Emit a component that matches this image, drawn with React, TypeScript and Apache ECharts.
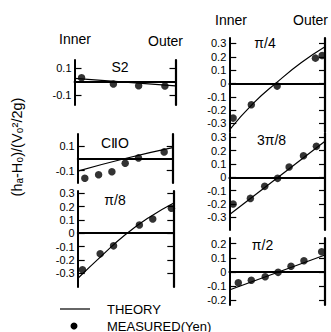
import React, { useEffect, useRef } from "react";
import * as echarts from "echarts";

// ---- data ----
const panelTitles = ["S2", "CⅡO", "π/8", "π/4", "3π/8", "π/2"];

const s2MeasuredX = [0.07, 0.385, 0.635, 0.895];
const s2MeasuredY = [0.03, -0.017, -0.03, -0.032];
const s2TheoryX = [0, 1];
const s2TheoryY = [0.025, -0.032];

const c2MeasuredX = [0.075, 0.22, 0.36, 0.5, 0.64, 0.91];
const c2MeasuredY = [-0.165, -0.135, -0.11, -0.04, 0.005, 0.055];
const c2TheoryX = [0, 0.5, 1];
const c2TheoryY = [-0.105, 0.0, 0.09];

const p8MeasuredX = [0.05, 0.235, 0.375, 0.645, 0.785, 0.98];
const p8MeasuredY = [-0.275, -0.155, -0.095, 0.062, 0.107, 0.187];
const p8TheoryX = [0, 0.25, 0.5, 0.75, 1];
const p8TheoryY = [-0.34, -0.17, -0.01, 0.12, 0.225];

const p4MeasuredX = [0.04, 0.23, 0.5, 0.9, 0.97];
const p4MeasuredY = [-0.26, -0.16, -0.02, 0.19, 0.21];
const p4TheoryX = [0, 0.25, 0.5, 0.75, 1];
const p4TheoryY = [-0.35, -0.15, 0.01, 0.155, 0.275];

const p38MeasuredX = [0.04, 0.22, 0.37, 0.505, 0.625, 0.775, 0.91];
const p38MeasuredY = [-0.2, -0.158, -0.068, -0.008, 0.077, 0.162, 0.232];
const p38TheoryX = [0, 1];
const p38TheoryY = [-0.28, 0.27];

const p2MeasuredX = [0.094, 0.23, 0.375, 0.51, 0.645, 0.78, 0.965];
const p2MeasuredY = [-0.079, -0.06, -0.036, -0.004, 0.04, 0.079, 0.143];
const p2TheoryX = [0, 1];
const p2TheoryY = [-0.13, 0.12];

const ticksSmall = [-0.1, 0.1];
const ticksWide = [-0.3, -0.2, -0.1, 0, 0.1, 0.2, 0.3];
const ticksMid = [-0.2, -0.1, 0, 0.1, 0.2];

const axisTitle = "(hₐ-H₀)/(V₀²/2g)";
const sideLabels = ["Inner", "Outer"];
const legendLabels = ["THEORY", "MEASURED(Yen)"];

const measuredX = [s2MeasuredX, c2MeasuredX, p8MeasuredX, p4MeasuredX, p38MeasuredX, p2MeasuredX];
const measuredY = [s2MeasuredY, c2MeasuredY, p8MeasuredY, p4MeasuredY, p38MeasuredY, p2MeasuredY];
const theoryX = [s2TheoryX, c2TheoryX, p8TheoryX, p4TheoryX, p38TheoryX, p2TheoryX];
const theoryY = [s2TheoryY, c2TheoryY, p8TheoryY, p4TheoryY, p38TheoryY, p2TheoryY];
const panelTicks = [ticksSmall, ticksSmall, ticksWide, ticksWide, ticksWide, ticksMid];

// ---- layout (pixels) ----
const layout = [
  { left: 74.5, top: 60, width: 101, height: 45, min: -0.175, max: 0.163, tx: 120, ty: 67 },
  { left: 77.7, top: 134, width: 95, height: 49, min: -0.204, max: 0.204, tx: 115, ty: 143 },
  { left: 77.7, top: 191, width: 95.6, height: 96, min: -0.404, max: 0.317, tx: 115, ty: 200 },
  { left: 229.3, top: 38, width: 95.7, height: 93.7, min: -0.362, max: 0.341, tx: 265, ty: 43 },
  { left: 229.3, top: 133, width: 95.7, height: 97, min: -0.395, max: 0.332, tx: 271.5, ty: 140 },
  { left: 229.3, top: 238, width: 95.7, height: 67, min: -0.237, max: 0.241, tx: 262.5, ty: 245 },
];

const FONT = '"Liberation Sans", Arial, sans-serif';

export default function App() {
  const ref = useRef<HTMLDivElement>(null);
  useEffect(() => {
    if (!ref.current) return;
    const chart = echarts.init(ref.current, null, { renderer: "svg" });
    const grid: any[] = [];
    const xAxis: any[] = [];
    const yAxis: any[] = [];
    const series: any[] = [];
    const graphic: any[] = [];
    layout.forEach((p, i) => {
      grid.push({ left: p.left, top: p.top, width: p.width, height: p.height, containLabel: false, outerBoundsMode: "none" });
      xAxis.push({
        type: "value", gridIndex: i, min: 0, max: 1, show: true,
        axisLine: { show: true, onZero: true, onZeroAxisIndex: 2 * i, lineStyle: { color: "#000", width: 1.8 } },
        axisTick: { show: false }, axisLabel: { show: false }, splitLine: { show: false },
      });
      const ticks = panelTicks[i];
      yAxis.push({
        type: "value", gridIndex: i, position: "left", min: p.min, max: p.max,
        axisLine: { show: true, onZero: false, lineStyle: { color: "#000", width: 2 } },
        axisTick: { show: true, inside: true, length: 7, customValues: ticks, lineStyle: { color: "#000", width: 1.2 } },
        axisLabel: {
          show: true, customValues: ticks, margin: 3, color: "#000", fontSize: 11, lineHeight: 11, fontFamily: FONT,
          formatter: (v: number) => (Math.abs(v) < 1e-9 ? "0" : v.toFixed(1)),
        },
        splitLine: { show: false },
      });
      yAxis.push({
        type: "value", gridIndex: i, position: "right", min: p.min, max: p.max,
        axisLine: { show: true, onZero: false, lineStyle: { color: "#000", width: 2.2 } },
        axisTick: { show: true, inside: true, length: 6, customValues: ticks, lineStyle: { color: "#000", width: 1.2 } },
        axisLabel: { show: false }, splitLine: { show: false },
      });
      series.push({
        type: "line", xAxisIndex: i, yAxisIndex: 2 * i, smooth: true, showSymbol: false, symbol: "none",
        lineStyle: { color: "#000", width: 1.2 }, z: 3,
        data: theoryX[i].map((x, k) => [x, theoryY[i][k]]),
      });
      series.push({
        type: "scatter", xAxisIndex: i, yAxisIndex: 2 * i, symbol: "circle", symbolSize: 7.5,
        itemStyle: { color: "#000" }, z: 4,
        data: measuredX[i].map((x, k) => [x, measuredY[i][k]]),
      });
      graphic.push({
        type: "text", x: p.tx, y: p.ty,
        style: { text: panelTitles[i], fill: "#000", font: `14px ${FONT}`, textAlign: "center", textVerticalAlign: "middle" },
      });
    });
    // Inner / Outer headers
    graphic.push({ type: "text", x: 59, y: 39, style: { text: sideLabels[0], fill: "#000", font: `14px ${FONT}`, textAlign: "left", textVerticalAlign: "middle" } });
    graphic.push({ type: "text", x: 148, y: 41, style: { text: sideLabels[1], fill: "#000", font: `14px ${FONT}`, textAlign: "left", textVerticalAlign: "middle" } });
    graphic.push({ type: "text", x: 215, y: 20, style: { text: sideLabels[0], fill: "#000", font: `14px ${FONT}`, textAlign: "left", textVerticalAlign: "middle" } });
    graphic.push({ type: "text", x: 293, y: 20, style: { text: sideLabels[1], fill: "#000", font: `14px ${FONT}`, textAlign: "left", textVerticalAlign: "middle" } });
    // Y title
    graphic.push({
      type: "text", x: 17, y: 147, rotation: Math.PI / 2,
      style: { text: axisTitle, fill: "#000", font: `14.5px ${FONT}`, textAlign: "center", textVerticalAlign: "middle" },
    });
    // Legend
    graphic.push({ type: "line", shape: { x1: 60, y1: 309, x2: 90, y2: 309 }, style: { stroke: "#000", lineWidth: 1.2 } });
    graphic.push({ type: "text", x: 107, y: 309, style: { text: legendLabels[0], fill: "#000", font: `13px ${FONT}`, textAlign: "left", textVerticalAlign: "middle" } });
    graphic.push({ type: "circle", shape: { cx: 74, cy: 326, r: 3.5 }, style: { fill: "#000" } });
    graphic.push({ type: "text", x: 107, y: 326, style: { text: legendLabels[1], fill: "#000", font: `13px ${FONT}`, textAlign: "left", textVerticalAlign: "middle" } });

    chart.setOption({
      animation: false,
      backgroundColor: "#fff",
      grid, xAxis, yAxis, series, graphic,
    });
    return () => chart.dispose();
  }, []);
  return <div ref={ref} style={{ position: "absolute", left: 0, top: 0, width: 331, height: 332 }} />;
}
